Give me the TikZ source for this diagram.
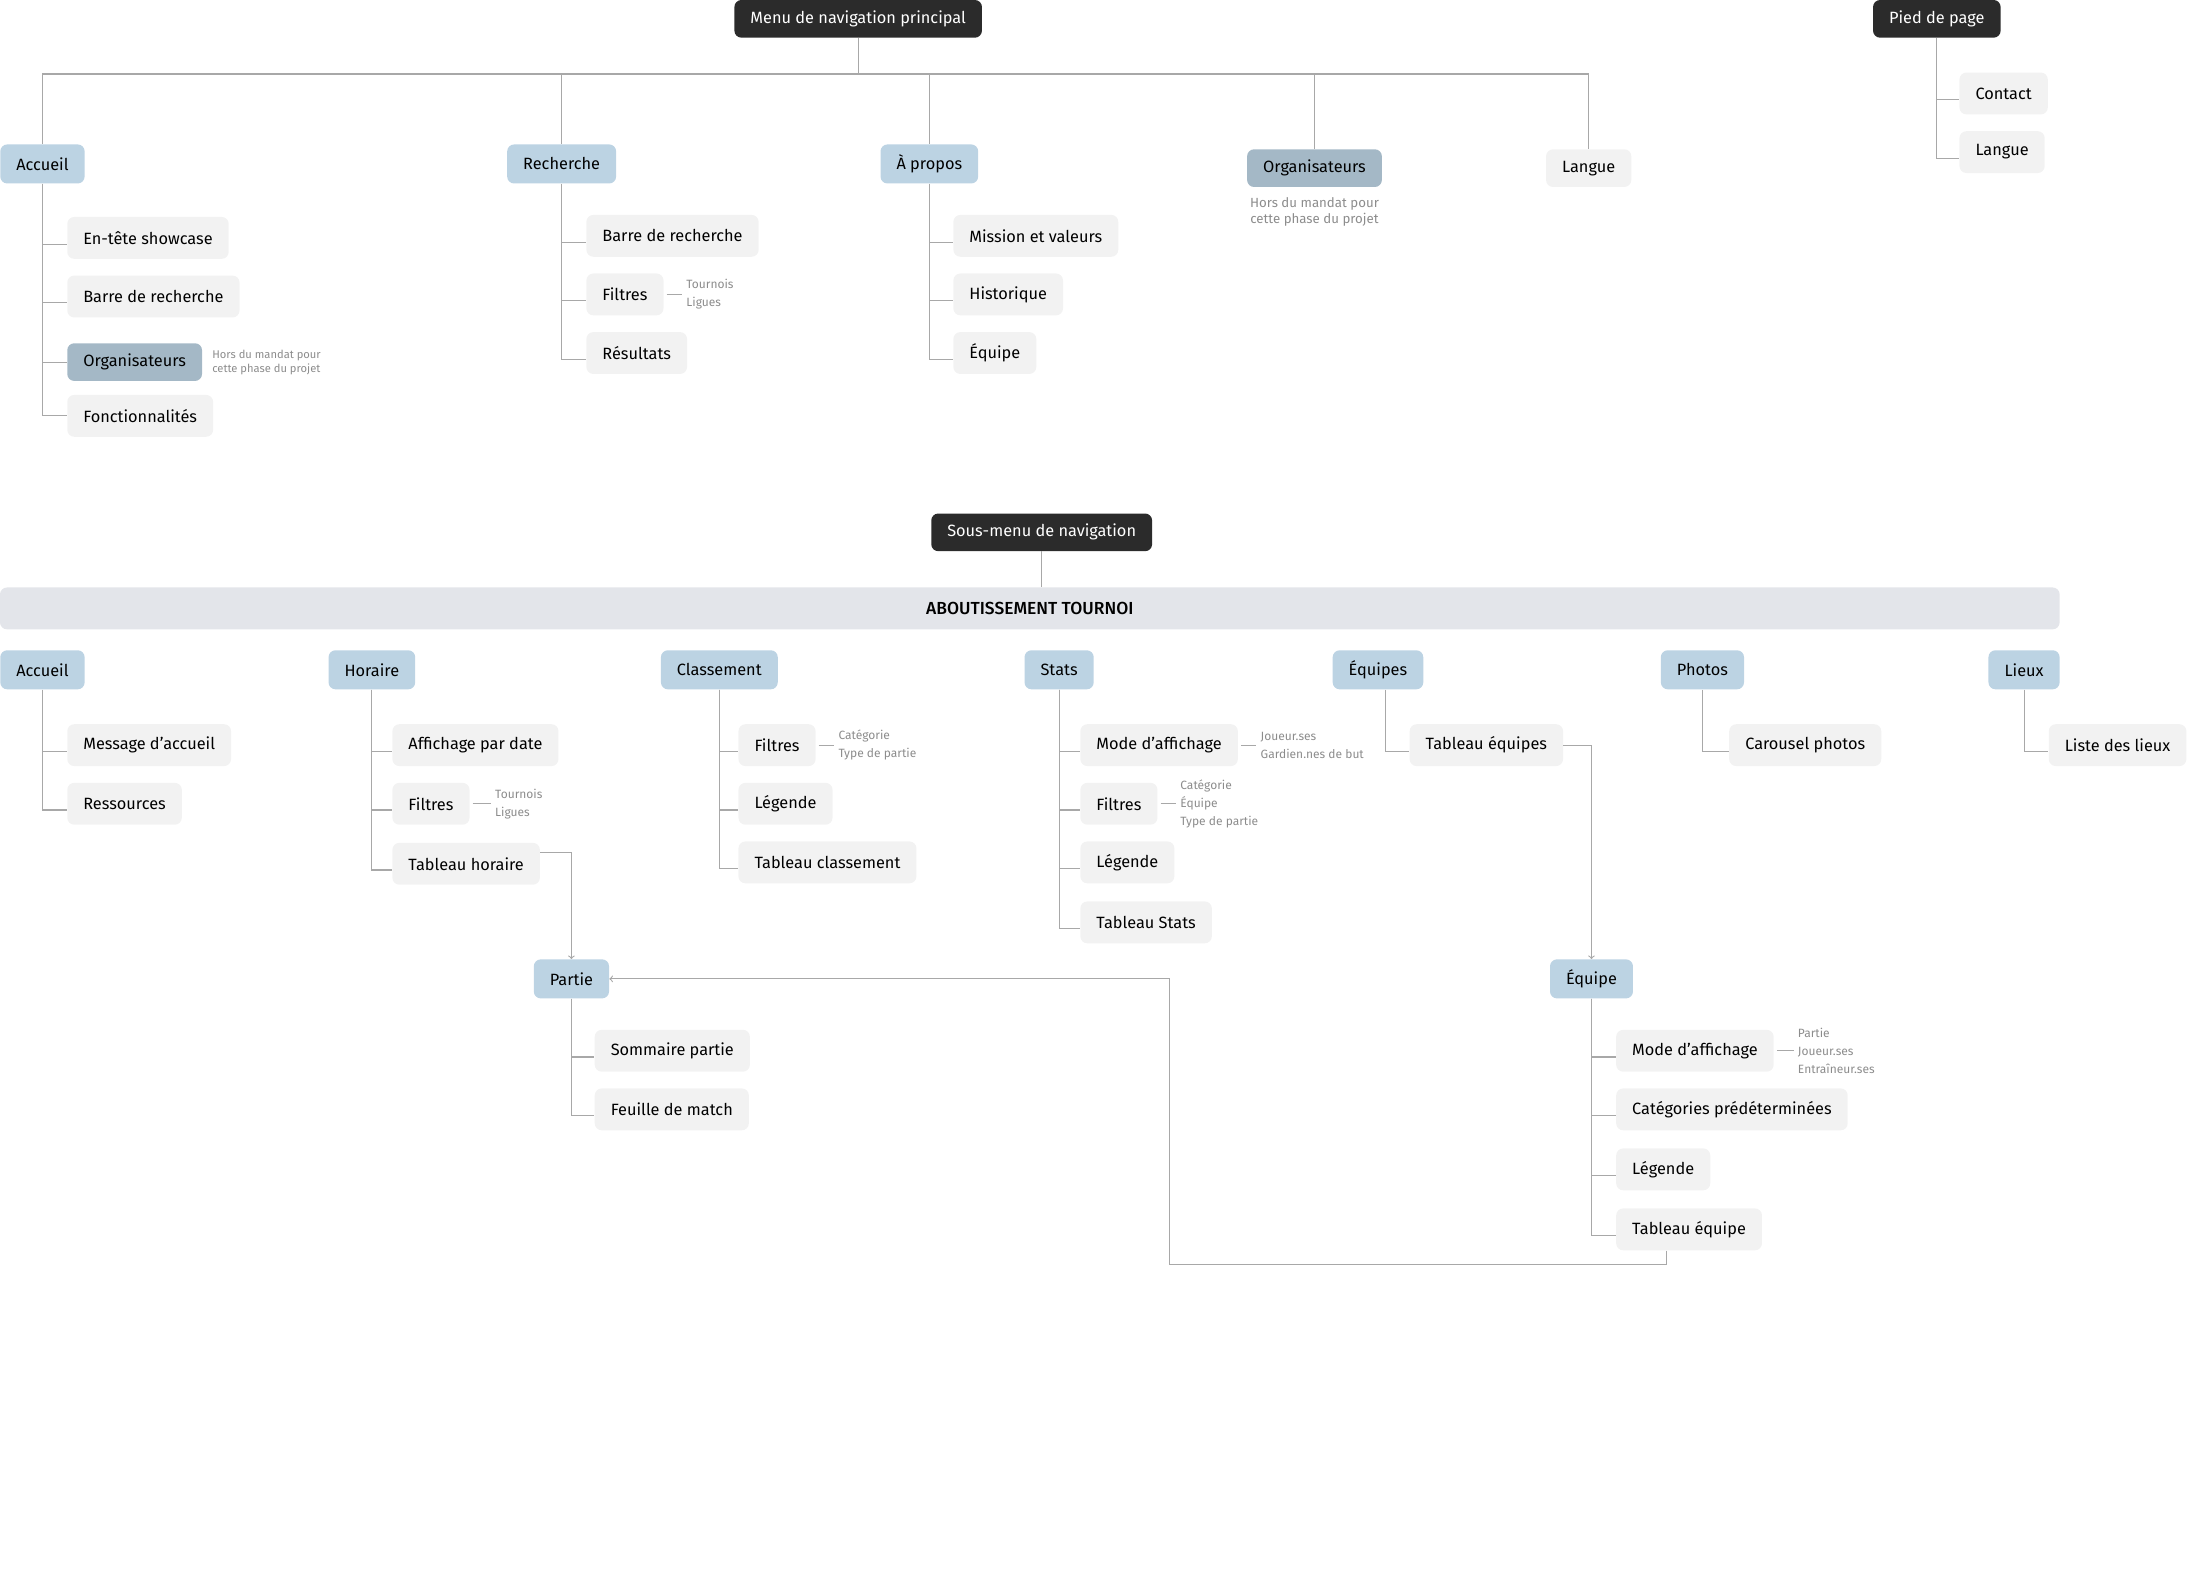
\documentclass[tikz,border=0pt]{standalone}
\usepackage{fontspec}
\setmainfont{Fira Sans}
\newfontfamily\medfont{Fira Sans Medium}
\usepackage{xcolor}
\usetikzlibrary{positioning}

\definecolor{darkbox}{HTML}{2B2B2B}
\definecolor{catblue}{HTML}{BCD3E3}
\definecolor{outblue}{HTML}{A4B8C6}
\definecolor{leafgrey}{HTML}{F2F2F2}
\definecolor{bandgrey}{HTML}{E3E5EA}
\definecolor{linegrey}{HTML}{A8A8A8}
\definecolor{notegrey}{HTML}{8C8C8C}

\begin{document}
\begin{tikzpicture}[x=1pt, y=-1pt,
	box/.style={rectangle, rounded corners=5pt, inner xsep=11.5pt, inner ysep=0pt, font=\fontsize{11.7}{13}\selectfont},
	dark/.style={box, fill=darkbox, text=white, minimum height=27pt},
	cat/.style={box, fill=catblue, minimum height=28pt},
	offbox/.style={box, fill=outblue, minimum height=27pt},
	leaf/.style={box, fill=leafgrey, minimum height=30pt, anchor=west},
	note/.style={inner xsep=3pt, inner ysep=0pt, align=left, text=notegrey, font=\fontsize{8.6}{12.7}\selectfont},
	link/.style={draw=linegrey, line width=0.8pt},
	tick/.style={link, shorten <=2pt},
	vh/.style={to path={|- ([yshift=-4.5pt]\tikztotarget.west)}},
	vhc/.style={to path={|- (\tikztotarget)}},
	hv/.style={to path={-| (\tikztotarget)}}]
	\useasboundingbox (0,0) rectangle (1568,1126);

	% menu principal
	\node[dark] (m) at (615,13.5) {Menu de navigation principal};
	\node[dark] (p) at (1388,13.5) {Pied de page};
	\coordinate (bus) at (615,53);

	\node[cat, anchor=west] (a) at (0,117.5) {Accueil};
	\node[cat] (r) at (402.5,117.5) {Recherche};
	\node[cat] (ap) at (666,117.5) {À propos};
	\node[offbox] (o) at (942,120.5) {Organisateurs};
	\node[leaf, anchor=center, minimum height=27pt] (l) at (1138.5,120.5) {Langue};
	\node[note, align=center, font=\fontsize{9.5}{12}\selectfont, below=7pt of o] (on) {Hors du mandat pour\\cette phase du projet};

	\node[leaf] (a1) at (48,170.5) {En-tête showcase};
	\node[leaf] (a2) at (48,212.5) {Barre de recherche};
	\node[offbox, anchor=west] (a3) at (48,259.5) {Organisateurs};
	\node[leaf] (a4) at (48,298) {Fonctionnalités};
	\node[note, font=\fontsize{8}{10}\selectfont, right=4pt of a3] (a3n) {Hors du mandat pour\\cette phase du projet};

	\node[leaf] (r1) at (420,169) {Barre de recherche};
	\node[leaf] (r2) at (420,211) {Filtres};
	\node[leaf] (r3) at (420,253) {Résultats};
	\node[note, right=13pt of r2] (r2n) {Tournois\\Ligues};

	\node[leaf] (ap1) at (683,169) {Mission et valeurs};
	\node[leaf] (ap2) at (683,211) {Historique};
	\node[leaf] (ap3) at (683,253) {Équipe};

	\node[leaf] (p1) at (1404,67) {Contact};
	\node[leaf] (p2) at (1404,109) {Langue};

	% sous-menu
	\node[dark] (s) at (746.5,381.5) {Sous-menu de navigation};
	\node[box, fill=bandgrey, minimum width=1476pt, minimum height=30pt, font=\fontsize{12.5}{13}\selectfont\medfont] (t) at (738,436) {ABOUTISSEMENT TOURNOI};

	\node[cat, anchor=west] (b) at (0,480) {Accueil};
	\node[cat] (h) at (266.5,480) {Horaire};
	\node[cat] (c) at (515.5,480) {Classement};
	\node[cat] (st) at (759,480) {Stats};
	\node[cat] (eq) at (987.5,480) {Équipes};
	\node[cat] (ph) at (1220,480) {Photos};
	\node[cat] (li) at (1450.5,480) {Lieux};

	\node[leaf] (b1) at (48,534) {Message d’accueil};
	\node[leaf] (b2) at (48,576) {Ressources};

	\node[leaf] (h1) at (281,534) {Affichage par date};
	\node[leaf] (h2) at (281,576) {Filtres};
	\node[leaf] (h3) at (281,619) {Tableau horaire};
	\node[note, right=15pt of h2] (h2n) {Tournois\\Ligues};

	\node[leaf] (c1) at (529,534) {Filtres};
	\node[leaf] (c2) at (529,576) {Légende};
	\node[leaf] (c3) at (529,618) {Tableau classement};
	\node[note, right=13pt of c1] (c1n) {Catégorie\\Type de partie};

	\node[leaf] (st1) at (774,534) {Mode d’affichage};
	\node[leaf] (st2) at (774,576) {Filtres};
	\node[leaf] (st3) at (774,618) {Légende};
	\node[leaf] (st4) at (774,661) {Tableau Stats};
	\node[note, right=13pt of st1] (st1n) {Joueur.ses\\Gardien.nes de but};
	\node[note, right=13pt of st2] (st2n) {Catégorie\\Équipe\\Type de partie};

	\node[leaf] (eq1) at (1010,534) {Tableau équipes};
	\node[leaf] (ph1) at (1239,534) {Carousel photos};
	\node[leaf] (li1) at (1468,534) {Liste des lieux};

	\node[cat] (pa) at (409.5,701.5) {Partie};
	\node[leaf] (pa1) at (426,753) {Sommaire partie};
	\node[leaf] (pa2) at (426,795) {Feuille de match};

	\node[cat] (e) at (1140.5,701.5) {Équipe};
	\node[leaf] (e1) at (1158,753) {Mode d’affichage};
	\node[leaf] (e2) at (1158,795) {Catégories prédéterminées};
	\node[leaf] (e3) at (1158,838) {Légende};
	\node[leaf] (e4) at (1158,881) {Tableau équipe};
	\node[note, right=14pt of e1] (e1n) {Partie\\Joueur.ses\\Entraîneur.ses};
	\coordinate (k) at (838,906);

	\path[every edge/.style={link}]
		(m) edge (bus)
		(bus) edge[hv] (a)
		(bus) edge[hv] (r)
		(bus) edge[hv] (ap)
		(bus) edge[hv] (o)
		(bus) edge[hv] (l)
		(a) edge[vh] (a1)
		(a) edge[vh] (a2)
		(a) edge[vhc] (a3)
		(a) edge[vhc] (a4)
		(r) edge[vh] (r1)
		(r) edge[vh] (r2)
		(r) edge[vh] (r3)
		(r2) edge[tick] (r2n)
		(ap) edge[vh] (ap1)
		(ap) edge[vh] (ap2)
		(ap) edge[vh] (ap3)
		(p) edge[vh] (p1)
		(p) edge[vh] (p2)
		(s) edge (s |- t.north)
		(b) edge[vh] (b1)
		(b) edge[vh] (b2)
		(h) edge[vh] (h1)
		(h) edge[vh] (h2)
		(h) edge[vh] (h3)
		(h2) edge[tick] (h2n)
		(c) edge[vh] (c1)
		(c) edge[vh] (c2)
		(c) edge[vh] (c3)
		(c1) edge[tick] (c1n)
		(st) edge[vh] (st1)
		(st) edge[vh] (st2)
		(st) edge[vh] (st3)
		(st) edge[vh] (st4)
		(st1) edge[tick] (st1n)
		(st2) edge[tick] (st2n)
		([xshift=5.5pt]eq.south) edge[vh] (eq1)
		(ph) edge[vh] (ph1)
		(li) edge[vh] (li1)
		(pa) edge[vh] (pa1)
		(pa) edge[vh] (pa2)
		(e) edge[vh] (e1)
		(e) edge[vh] (e2)
		(e) edge[vh] (e3)
		(e) edge[vh] (e4)
		(e1) edge[tick] (e1n)
	;

	% renvois
	\draw[link, ->] ([yshift=8pt]h3.east) -| (pa);
	\draw[link, ->] (eq1) -| (e);
	\draw[link, ->] ([xshift=-16pt]e4.south) |- (k) |- (pa);
\end{tikzpicture}
\end{document}
